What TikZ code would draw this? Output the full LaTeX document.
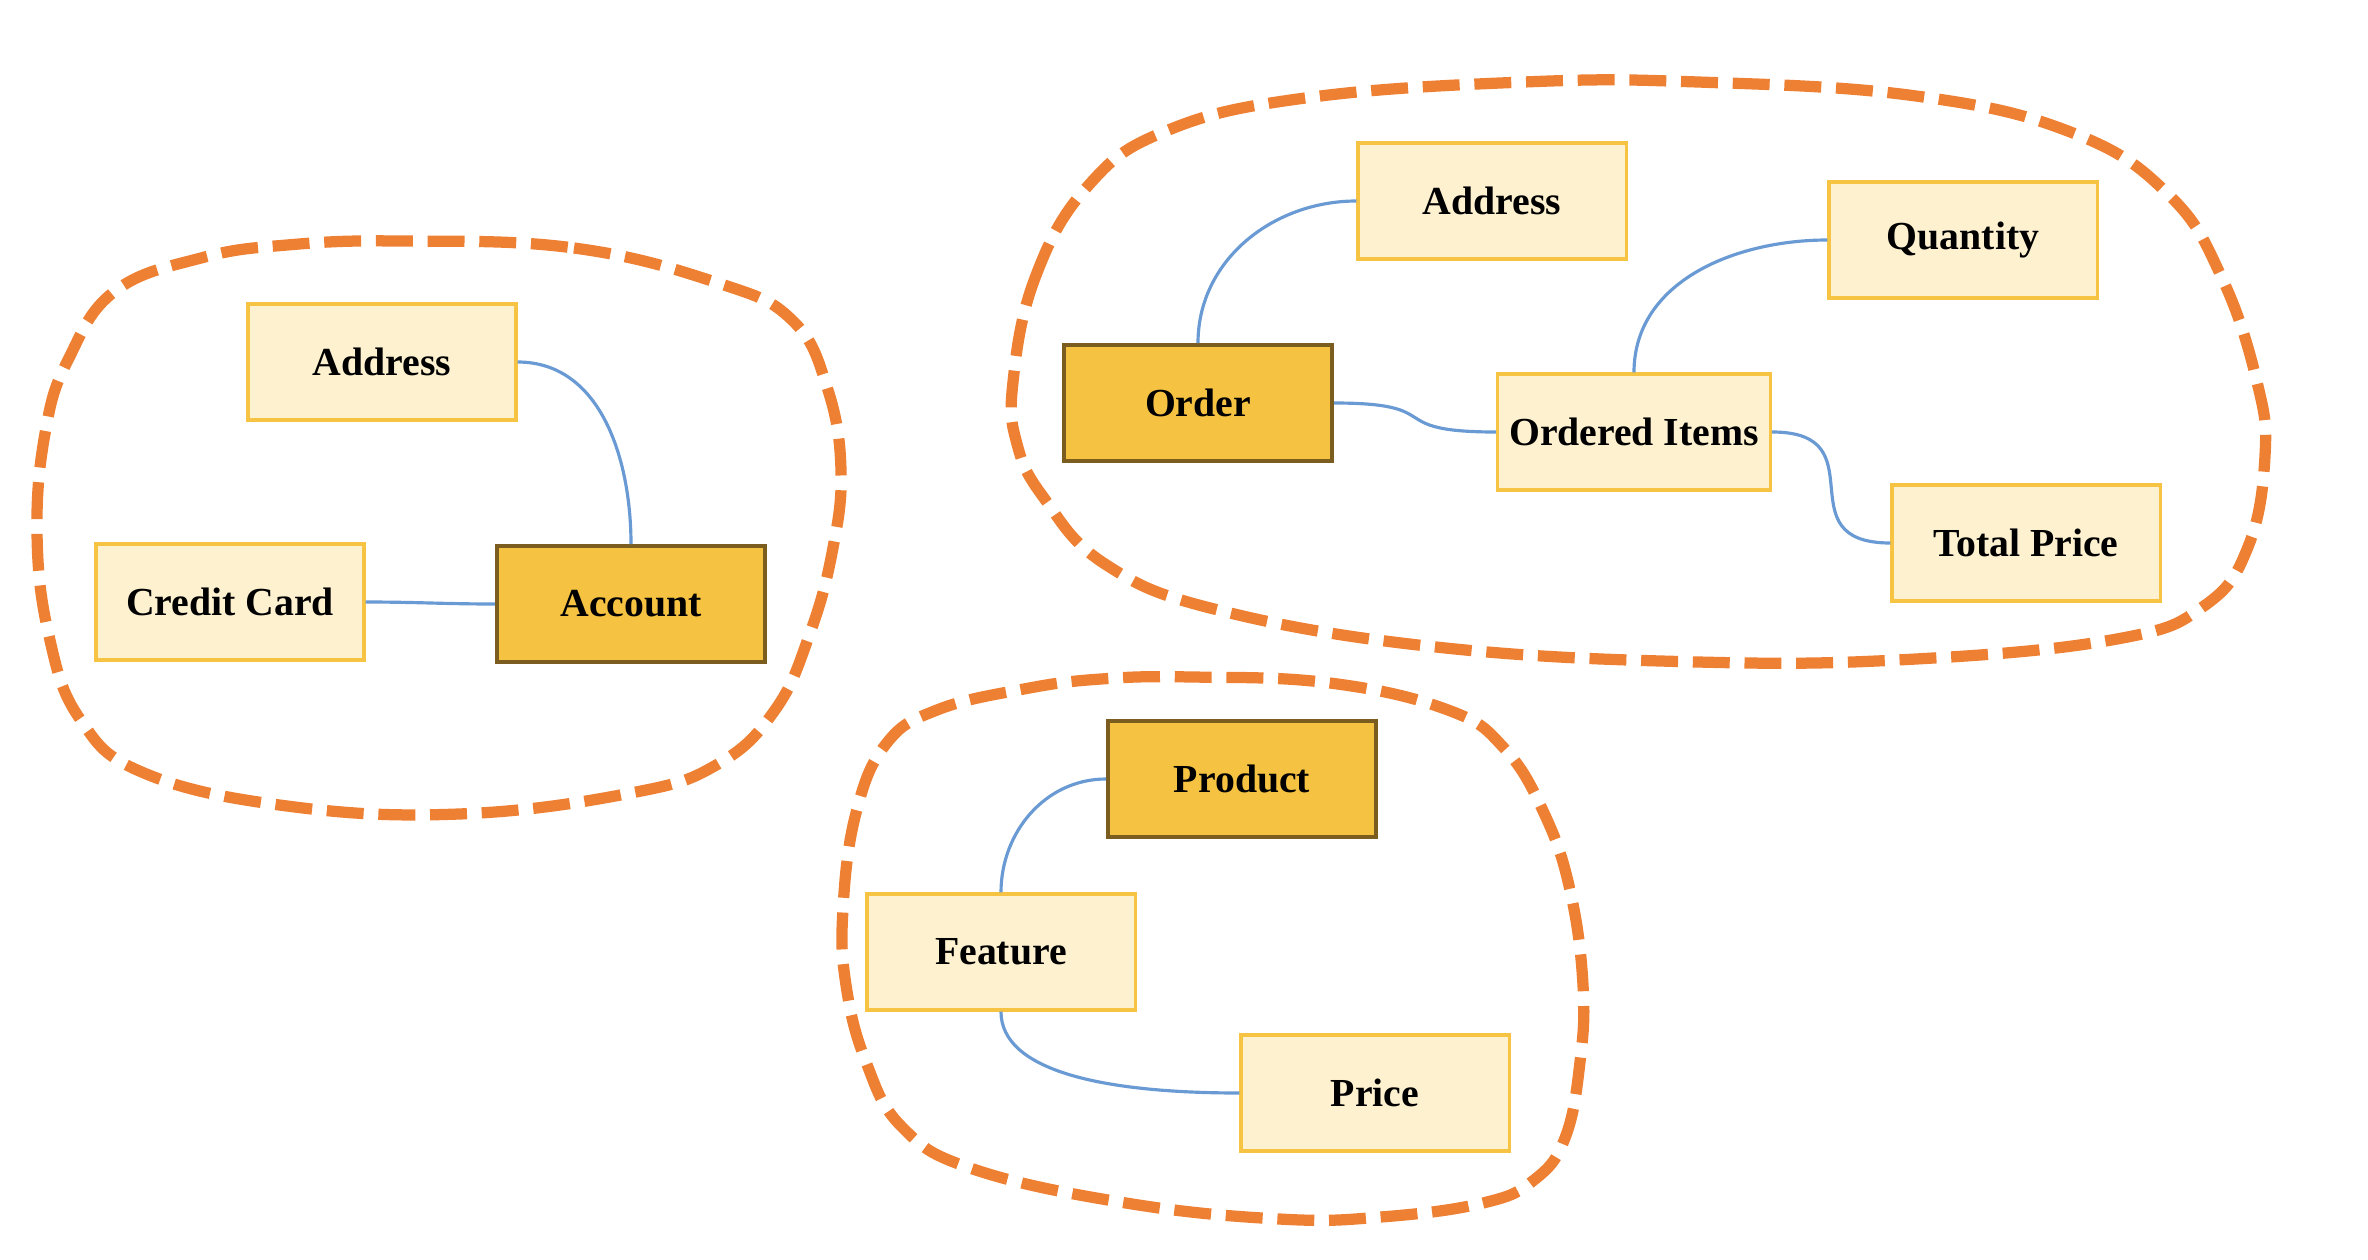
\documentclass[tikz,border=0pt]{standalone}
\usepackage{fontspec}
\setmainfont{Liberation Serif}
\definecolor{fieldfill}{HTML}{FDF1CF}
\definecolor{fieldline}{HTML}{F6C342}
\definecolor{keyfill}{HTML}{F5C242}
\definecolor{keyline}{HTML}{7B5E1F}
\definecolor{linkblue}{HTML}{6A9AD3}
\definecolor{grouporange}{HTML}{EE8034}
\tikzset{
  group/.style={draw=grouporange, line width=3.2pt, dash pattern=on 10.5pt off 4.2pt},
  keybox/.style={draw=keyline, fill=keyfill, line width=1.1pt}
}
\begin{document}
\begin{tikzpicture}[x=0.01cm,y=-0.01cm]
      \useasboundingbox (0,0) rectangle (2368,1260);

      % groups
      \draw[group] plot[smooth cycle, tension=0.7] coordinates {
        (402,241) (574,248) (718,283) (792,320) (827,387) (841,470) (832,553)
        (809,636) (775,710) (718,764) (631,793) (459,814) (287,806) (144,773)
        (80,719) (49,636) (37,532) (46,428) (69,358) (115,291) (201,258) (287,245)};
      \draw[group] plot[smooth cycle, tension=0.7] coordinates {
        (1013,382) (1035,278) (1087,187) (1166,131) (1305,98) (1524,82) (1698,82)
        (1916,96) (2073,133) (2169,195) (2222,278) (2257,382) (2265,456) (2248,547)
        (2204,606) (2117,639) (1916,659) (1698,662) (1436,647) (1218,610) (1105,564)
        (1044,498) (1017,444)};
      \draw[group] plot[smooth cycle, tension=0.7] coordinates {
        (1192,677) (1330,683) (1448,710) (1504,748) (1544,813) (1570,890) (1583,985)
        (1580,1062) (1565,1138) (1534,1180) (1483,1203) (1381,1217) (1279,1219)
        (1126,1203) (973,1169) (902,1127) (866,1062) (846,985) (843,909) (856,813)
        (886,744) (937,710) (1024,689) (1101,679)};

      \begin{scope}[every node/.style={rectangle, draw=fieldline, fill=fieldfill,
          line width=0.9pt, minimum width=2.68cm, minimum height=1.16cm,
          font=\bfseries\fontsize{11.3}{13}\selectfont}]
        \node (addr1)    at (382,362)   {Address};
        \node (card)     at (230,602)   {Credit Card};
        \node[keybox] (account) at (631,604) {Account};

        \node (addr2)    at (1492,201)  {Address};
        \node (quantity) at (1963,240)  {Quantity};
        \node[keybox] (order) at (1198,403) {Order};
        \node (items)    at (1634,432)  {Ordered Items};
        \node (total)    at (2026,543)  {Total Price};

        \node[keybox] (product) at (1242,779) {Product};
        \node (feature)  at (1001,952)  {Feature};
        \node (price)    at (1375,1093) {Price};
      \end{scope}

      \begin{scope}[every edge/.style={draw=linkblue, line width=0.9pt}]
        \path (addr1)   edge[out=0,in=90]    (account);
        \path (card)    edge[out=0,in=180]   (account);
        \path (order)   edge[out=90,in=180]  (addr2);
        \path (order)   edge[out=0,in=180,looseness=1.8] (items);
        \path (items)   edge[out=90,in=180]  (quantity);
        \path (items)   edge[out=0,in=180,looseness=1.7] (total);
        \path (feature) edge[out=90,in=180]  (product);
        \path (feature) edge[out=-90,in=180,out looseness=0.6,in looseness=1.4] (price);
      \end{scope}

    \end{tikzpicture}
\end{document}
